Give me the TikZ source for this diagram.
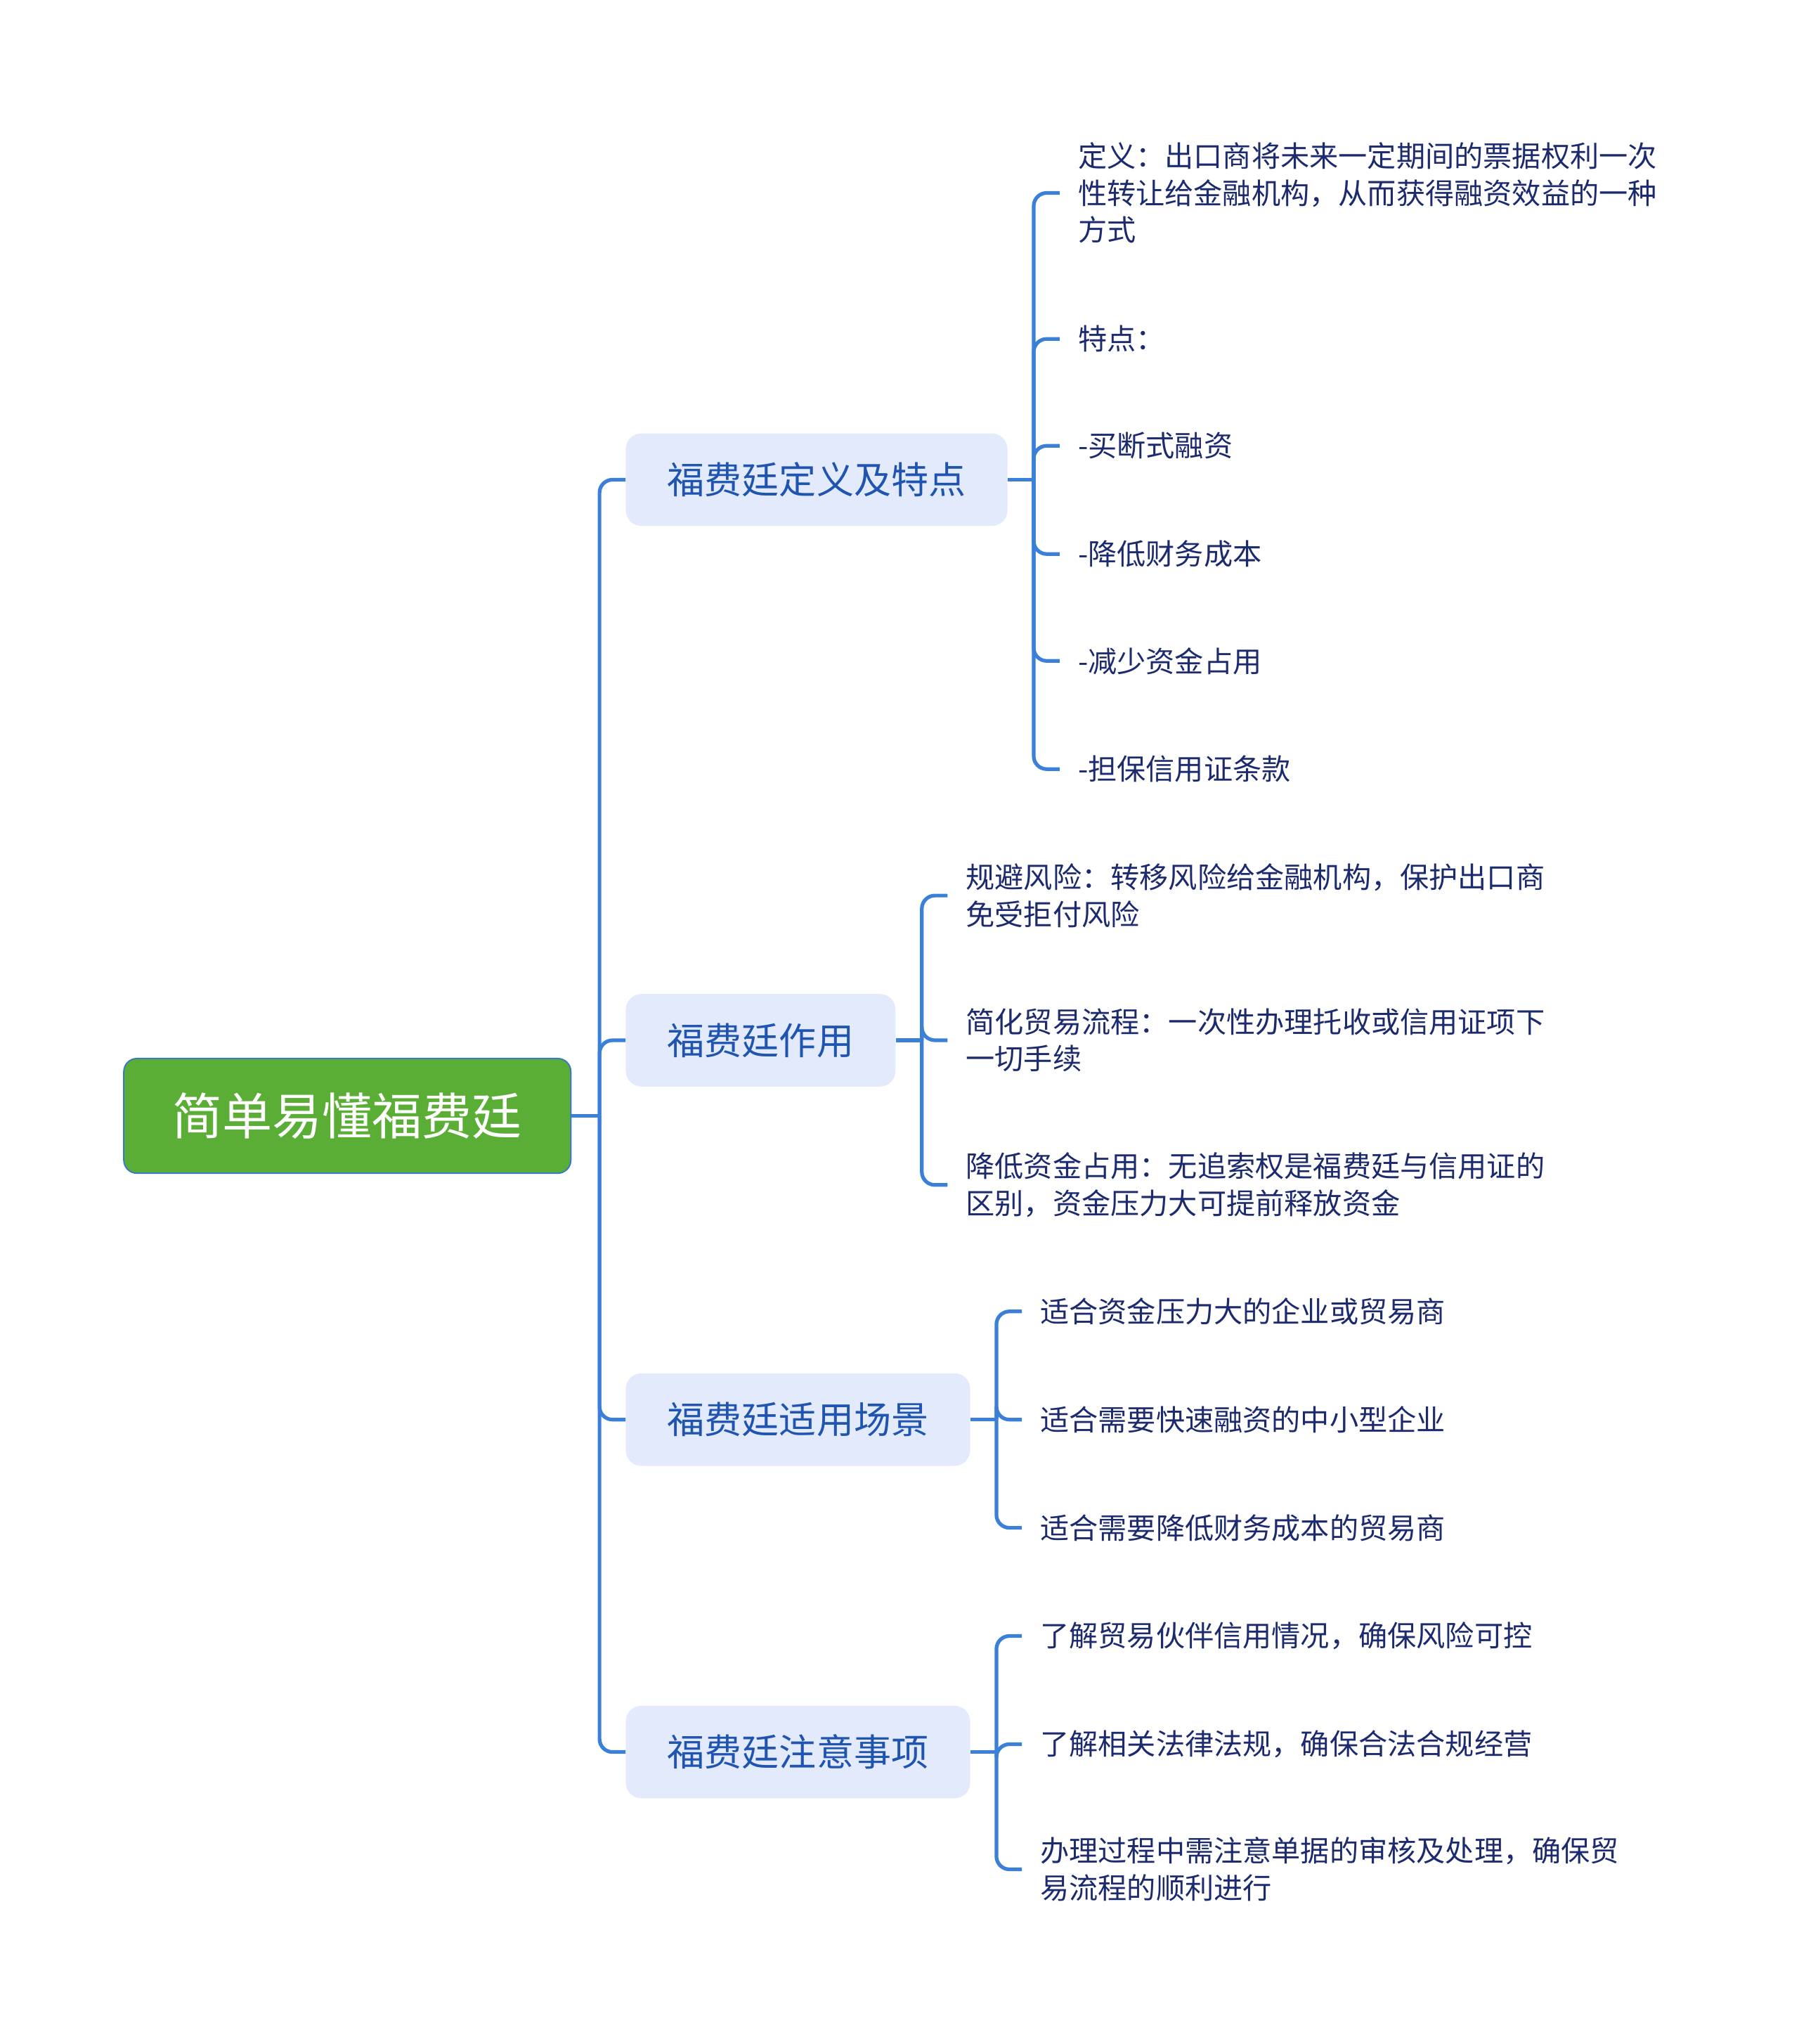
\documentclass[tikz,border=0pt]{standalone}
\usepackage{fontspec}
\setmainfont{Noto Sans CJK SC}
\usepackage{tikz}
\usetikzlibrary{positioning}
\definecolor{mmgreen}{RGB}{90,174,53}
\definecolor{mmedge}{RGB}{58,120,200}
\definecolor{mmline}{RGB}{58,127,216}
\definecolor{mmtopic}{RGB}{227,234,252}
\definecolor{mmblue}{RGB}{31,85,176}
\definecolor{mmnavy}{RGB}{28,42,110}

\begin{document}
\begin{tikzpicture}[
  x=0.05cm, y=-0.05cm,
  rootbox/.style={draw=mmedge,line width=1.5pt,fill=mmgreen,rounded corners=0.5cm,
    text=white,font=\fontsize{54.5pt}{60pt}\selectfont,
    minimum width=17.15cm,minimum height=4.4cm,inner sep=0pt},
  topicbox/.style={fill=mmtopic,rounded corners=0.6cm,text=mmblue,
    font=\fontsize{40.7pt}{48pt}\selectfont,anchor=west,
    inner xsep=1.6cm,inner ysep=0pt,minimum height=3.55cm},
  leaftext/.style={anchor=west,align=left,text=mmnavy,
    font=\fontsize{31.6pt}{40.3pt}\selectfont,inner xsep=0.7cm,inner ysep=0pt},
  link/.style={draw=mmline,line width=4pt,rounded corners=0.5cm},
]
  \useasboundingbox (0,0) rectangle (1380,1568);

  % Root
  \node[rootbox] (root) at (266.5,856) {简单易懂福费廷};

  % Main topics
  \node[topicbox] (def) at (480,368) {福费廷定义及特点};
  \node[topicbox] (use) at (480,798) {福费廷作用};
  \node[topicbox] (scene) at (480,1089) {福费廷适用场景};
  \node[topicbox] (note) at (480,1344) {福费廷注意事项};

  % Definition and features
  \node[leaftext] (def1) at (813,148) {定义：出口商将未来一定期间的票据权利一次\\性转让给金融机构，从而获得融资效益的一种\\方式};
  \node[leaftext] (def2) at (813,260) {特点：};
  \node[leaftext] (def3) at (813,342) {-买断式融资};
  \node[leaftext] (def4) at (813,425) {-降低财务成本};
  \node[leaftext] (def5) at (813,507) {-减少资金占用};
  \node[leaftext] (def6) at (813,590) {-担保信用证条款};

  % Functions
  \node[leaftext] (use1) at (727,687) {规避风险：转移风险给金融机构，保护出口商\\免受拒付风险};
  \node[leaftext] (use2) at (727,798) {简化贸易流程：一次性办理托收或信用证项下\\一切手续};
  \node[leaftext] (use3) at (727,909) {降低资金占用：无追索权是福费廷与信用证的\\区别，资金压力大可提前释放资金};

  % Scenarios
  \node[leaftext] (scene1) at (784,1006) {适合资金压力大的企业或贸易商};
  \node[leaftext] (scene2) at (784,1089) {适合需要快速融资的中小型企业};
  \node[leaftext] (scene3) at (784,1172) {适合需要降低财务成本的贸易商};

  % Notes
  \node[leaftext] (note1) at (784,1255) {了解贸易伙伴信用情况，确保风险可控};
  \node[leaftext] (note2) at (784,1338) {了解相关法律法规，确保合法合规经营};
  \node[leaftext] (note3) at (784,1434) {办理过程中需注意单据的审核及处理，确保贸\\易流程的顺利进行};

  % Connectors
  \draw[link] (root.east) -- (460,856) coordinate (trunk);
  \foreach \t in {def,use,scene,note}
    \draw[link] (trunk) |- (\t.west);

  \draw[link] (def.east) -- ++(20,0) coordinate (tdef);
  \foreach \l in {def1,def2,def3,def4,def5,def6}
    \draw[link] (tdef) |- (\l.west);

  \draw[link] (use.east) -- ++(20,0) coordinate (tuse);
  \foreach \l in {use1,use2,use3}
    \draw[link] (tuse) |- (\l.west);

  \draw[link] (scene.east) -- ++(20,0) coordinate (tscene);
  \foreach \l in {scene1,scene2,scene3}
    \draw[link] (tscene) |- (\l.west);

  \draw[link] (note.east) -- ++(20,0) coordinate (tnote);
  \foreach \l in {note1,note2,note3}
    \draw[link] (tnote) |- (\l.west);
\end{tikzpicture}
\end{document}
